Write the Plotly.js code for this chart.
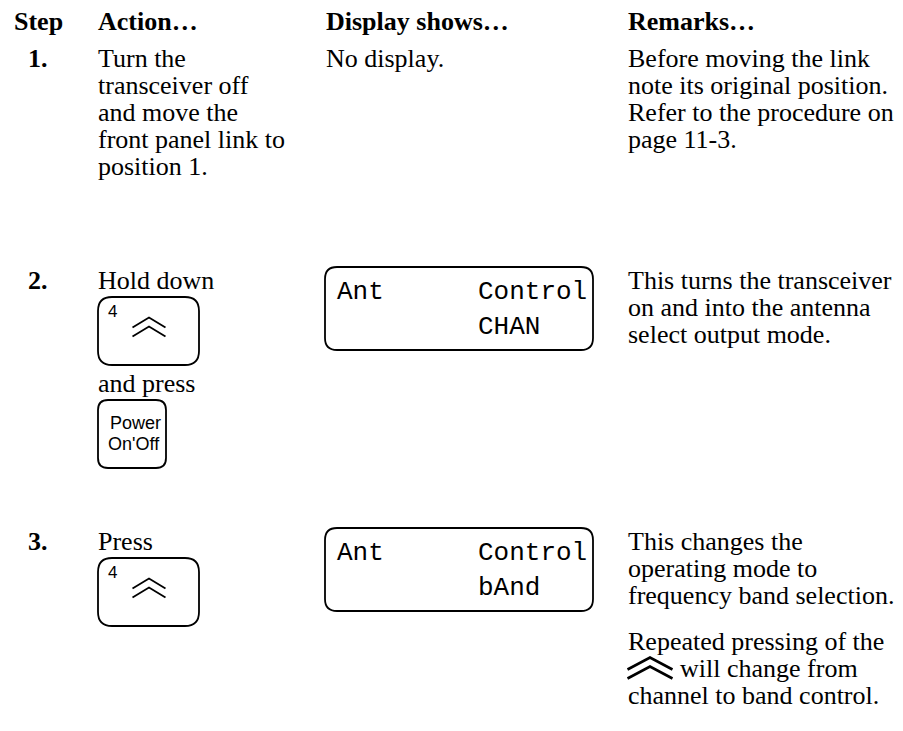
<!DOCTYPE html>
<html><head><meta charset="utf-8">
<script src="https://cdn.plot.ly/plotly-3.0.1.min.js"></script>
<style>html,body{margin:0;padding:0;background:#fff;}#chart{width:903px;height:731px;}</style>
</head><body><div id="chart"></div>
<script>
// ---- content ----
const headers = ['Step', 'Action…', 'Display shows…', 'Remarks…'];
const steps = ['1.', '2.', '3.'];
const action1 = ['Turn the', 'transceiver off', 'and move the', 'front panel link to', 'position 1.'];
const action2 = ['Hold down', 'and press'];
const action3 = ['Press'];
const display1 = ['No display.'];
const lcd2 = ['Ant', 'Control', 'CHAN'];
const lcd3 = ['Ant', 'Control', 'bAnd'];
const remarks1 = ['Before moving the link', 'note its original position.', 'Refer to the procedure on', 'page 11-3.'];
const remarks2 = ['This turns the transceiver', 'on and into the antenna', 'select output mode.'];
const remarks3 = ['This changes the', 'operating mode to', 'frequency band selection.'];
const remarks3b = ['Repeated pressing of the', 'will change from', 'channel to band control.'];
const keyLabels = ['4', 'Power', "On'Off"];

// ---- layout helpers ----
const FS = 26, LH = 27;
const serif = '"Liberation Serif", "Times New Roman", serif';
const sans = '"Liberation Sans", Arial, sans-serif';
const mono = '"Liberation Mono", "DejaVu Sans Mono", monospace';
const ann = [], shapes = [];
function txt(s, x, base, o) {
  o = o || {};
  const size = o.size || FS;
  ann.push({text: o.bold ? '<b>' + s + '</b>' : s, x: x, y: o.center !== undefined ? o.center : base - size * 0.34,
    xref: 'x', yref: 'y', xanchor: o.anchor || 'left', yanchor: 'middle', showarrow: false, borderpad: 0,
    font: {family: o.family || serif, size: size, color: '#000'}});
}
function lines(arr, x, base0) { arr.forEach((s, i) => txt(s, x, base0 + i * LH)); }
function rr(x0, y0, x1, y1, r) {
  return `M${x0 + r},${y0} L${x1 - r},${y0} Q${x1},${y0} ${x1},${y0 + r} L${x1},${y1 - r} Q${x1},${y1} ${x1 - r},${y1} L${x0 + r},${y1} Q${x0},${y1} ${x0},${y1 - r} L${x0},${y0 + r} Q${x0},${y0} ${x0 + r},${y0} Z`;
}
function box(x0, y0, x1, y1, r) {
  shapes.push({type: 'path', xref: 'x', yref: 'y', path: rr(x0, y0, x1, y1, r), line: {color: '#000', width: 1.8}});
}
function chev(cx, cy, w, h, gap, lw) {
  [-gap / 2, gap / 2].forEach(d => {
    shapes.push({type: 'path', xref: 'x', yref: 'y',
      path: `M${cx - w / 2},${cy + d + h / 2} L${cx},${cy + d - h / 2} L${cx + w / 2},${cy + d + h / 2}`,
      line: {color: '#000', width: lw}});
  });
}
function upKey(x0, y0) {
  box(x0, y0, x0 + 101, y0 + 68, 14);
  txt(keyLabels[0], x0 + 9, 0, {family: sans, size: 17, center: y0 + 14});
  chev(x0 + 51, y0 + 30, 33, 10, 9, 1.8);
}
function lcd(arr, x0, y0) {
  box(x0, y0, x0 + 268, y0 + 83, 12);
  txt(arr[0], x0 + 11, 0, {family: mono, size: 26, center: y0 + 25});
  txt(arr[1], x0 + 152, 0, {family: mono, size: 26, center: y0 + 25});
  txt(arr[2], x0 + 152, 0, {family: mono, size: 26, center: y0 + 60});
}

// columns
const cx = [13, 97, 325, 627];
headers.forEach((h, i) => txt(h, cx[i], 30, {bold: true}));
const rowBase = [67, 289, 550];
steps.forEach((s, i) => txt(s, 27, rowBase[i], {bold: true}));

// row 1
lines(action1, cx[1], rowBase[0]);
lines(display1, cx[2], rowBase[0]);
lines(remarks1, cx[3], rowBase[0]);

// row 2
txt(action2[0], cx[1], rowBase[1]);
upKey(98, 297);
txt(action2[1], cx[1], 392);
box(98, 400, 166, 468, 10);
txt(keyLabels[1], 135, 0, {family: sans, size: 18, anchor: 'center', center: 423});
txt(keyLabels[2], 134, 0, {family: sans, size: 18, anchor: 'center', center: 444});
lcd(lcd2, cx[2], 267);
lines(remarks2, cx[3], rowBase[1]);

// row 3
txt(action3[0], cx[1], rowBase[2]);
upKey(98, 558);
lcd(lcd3, cx[2], 528);
lines(remarks3, cx[3], rowBase[2]);
txt(remarks3b[0], cx[3], 650);
chev(cx[3] + 23, 668, 45, 12, 9, 2.6);
txt(remarks3b[1], cx[3] + 52, 677);
txt(remarks3b[2], cx[3], 704);

const layout = {
  width: 903, height: 731, margin: {l: 0, r: 0, t: 0, b: 0},
  paper_bgcolor: '#fff', plot_bgcolor: '#fff', showlegend: false,
  xaxis: {range: [0, 903], visible: false, fixedrange: true},
  yaxis: {range: [731, 0], visible: false, fixedrange: true},
  annotations: ann, shapes: shapes
};
Plotly.newPlot('chart', [], layout, {staticPlot: true});
</script></body></html>
